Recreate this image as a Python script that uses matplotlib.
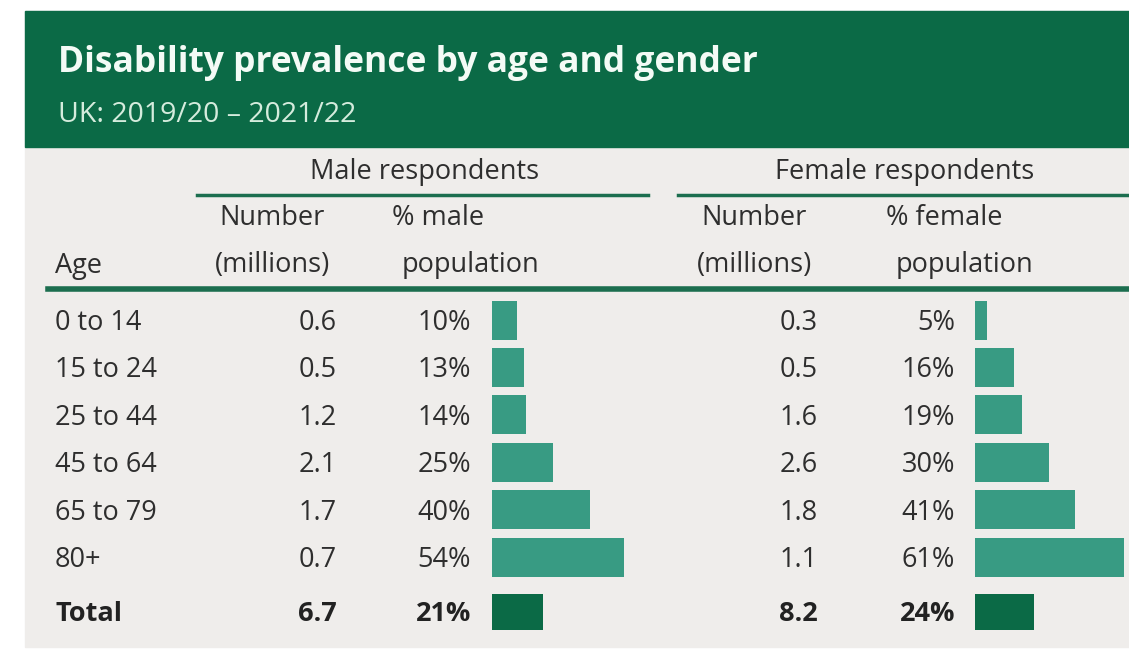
import matplotlib.pyplot as plt
from matplotlib.patches import Rectangle

# data
ages = ["0 to 14", "15 to 24", "25 to 44", "45 to 64", "65 to 79", "80+"]
male_number = [0.6, 0.5, 1.2, 2.1, 1.7, 0.7]
male_pct = [10, 13, 14, 25, 40, 54]
female_number = [0.3, 0.5, 1.6, 2.6, 1.8, 1.1]
female_pct = [5, 16, 19, 30, 41, 61]
total_label = "Total"
male_total = (6.7, 21)
female_total = (8.2, 24)

title = "Disability prevalence by age and gender"
subtitle = "UK: 2019/20 \u2013 2021/22"

# colours
green_dark = "#0b6a46"
green_line = "#1c6e4f"
bar_col = "#389b83"
bg_col = "#efedeb"
txt_col = "#2e2e2e"

W, H = 1129, 652
fig = plt.figure(figsize=(W / 100, H / 100), dpi=100)
ax = fig.add_axes([0, 0, 1, 1])
ax.set_xlim(0, W)
ax.set_ylim(H, 0)
ax.axis("off")
plt.rcParams["font.family"] = ["Open Sans", "DejaVu Sans"]

# panel + header
ax.add_patch(Rectangle((25, 11), W - 25, 636, color=bg_col, zorder=0))
ax.add_patch(Rectangle((25, 11), W - 25, 136, color=green_dark, zorder=1))
ax.text(58, 63, title, color="#f4fbf6", fontsize=25.5, fontweight="bold",
        va="center", ha="left", zorder=2)
ax.text(58, 115, subtitle, color="#d5ecdd", fontsize=20.5, va="center",
        ha="left", zorder=2)

fs = 19.5
# column headers
ax.text(425, 172, "Male respondents", fontsize=fs, color=txt_col, ha="center", va="center")
ax.text(905, 172, "Female respondents", fontsize=fs, color=txt_col, ha="center", va="center")
ax.plot([197, 648], [195, 195], color=green_line, lw=2.5)
ax.plot([678, W], [195, 195], color=green_line, lw=2.5)

ax.text(55, 266, "Age", fontsize=fs, color=txt_col, ha="left", va="center")
for cx, lbl1, x2, lbl2 in [(272, "% male", 392, "population"),
                           (754, "% female", 886, "population")]:
    ax.text(cx, 218, "Number", fontsize=fs, color=txt_col, ha="center", va="center")
    ax.text(cx, 265, "(millions)", fontsize=fs, color=txt_col, ha="center", va="center")
    ax.text(x2, 218, lbl1, fontsize=fs, color=txt_col, ha="left", va="center")
    ax.text(x2 + 10, 265, lbl2, fontsize=fs, color=txt_col, ha="left", va="center")
ax.plot([48, W], [289, 289], color=green_line, lw=4)

# rows
row_y0, row_step = 320, 47.4
px_per_pct = 2.45
male_num_x, male_pct_x, male_bar_x = 337, 471, 492
fem_num_x, fem_pct_x, fem_bar_x = 818, 955, 975

rows_y = [row_y0 + i * row_step for i in range(len(ages))]
for y, age, mn, mp, fn, fp in zip(rows_y, ages, male_number, male_pct,
                                  female_number, female_pct):
    ax.text(55, y + 3, age, fontsize=fs, color=txt_col, ha="left", va="center")
    ax.text(male_num_x, y + 3, f"{mn:.1f}", fontsize=fs, color=txt_col, ha="right", va="center")
    ax.text(male_pct_x, y + 3, f"{mp}%", fontsize=fs, color=txt_col, ha="right", va="center")
    ax.text(fem_num_x, y + 3, f"{fn:.1f}", fontsize=fs, color=txt_col, ha="right", va="center")
    ax.text(fem_pct_x, y + 3, f"{fp}%", fontsize=fs, color=txt_col, ha="right", va="center")

ax.barh(rows_y, [p * px_per_pct for p in male_pct], left=male_bar_x,
        height=39, color=bar_col, zorder=2)
ax.barh(rows_y, [p * px_per_pct for p in female_pct], left=fem_bar_x,
        height=39, color=bar_col, zorder=2)

# total row
ty = 613
ax.text(55, ty + 1, total_label, fontsize=fs, fontweight="bold", color="#222222", ha="left", va="center")
ax.text(male_num_x, ty + 1, f"{male_total[0]:.1f}", fontsize=fs, fontweight="bold", color="#222222", ha="right", va="center")
ax.text(male_pct_x, ty + 1, f"{male_total[1]}%", fontsize=fs, fontweight="bold", color="#222222", ha="right", va="center")
ax.text(fem_num_x, ty + 1, f"{female_total[0]:.1f}", fontsize=fs, fontweight="bold", color="#222222", ha="right", va="center")
ax.text(fem_pct_x, ty + 1, f"{female_total[1]}%", fontsize=fs, fontweight="bold", color="#222222", ha="right", va="center")
ax.barh([ty - 1], [male_total[1] * px_per_pct], left=male_bar_x, height=36,
        color=green_dark, zorder=2)
ax.barh([ty - 1], [female_total[1] * px_per_pct], left=fem_bar_x, height=36,
        color=green_dark, zorder=2)

fig.savefig("out.png", dpi=100, facecolor="white")
